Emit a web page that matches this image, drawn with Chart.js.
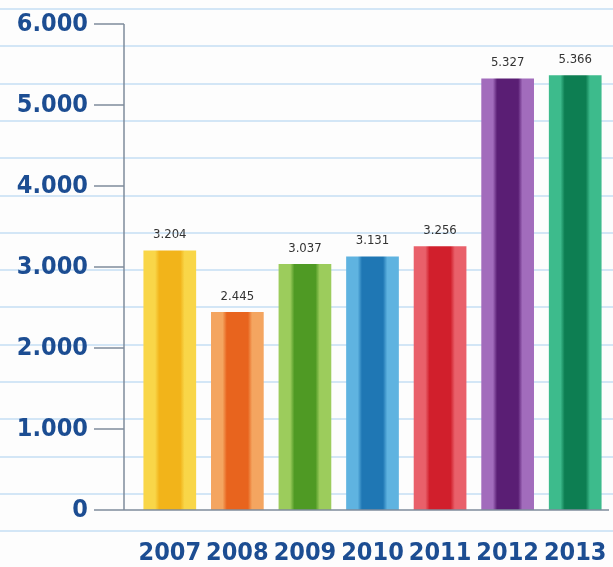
<!DOCTYPE html>
<html>
<head>
<meta charset="utf-8">
<script src="https://cdn.jsdelivr.net/npm/chart.js@4.4.1/dist/chart.umd.min.js"></script>
<style>
  html, body { margin: 0; padding: 0; }
  body {
    width: 613px; height: 567px; overflow: hidden;
    background-color: #fdfdfd;
    background-image: repeating-linear-gradient(to bottom, transparent 0px, transparent 8px, #d3e6f6 8px, #d3e6f6 10px, transparent 10px, transparent 37.3px);
  }
  #wrap { position: relative; width: 613px; height: 567px; }
</style>
</head>
<body>
<div id="wrap"><canvas id="myChart"></canvas></div>
<script>
const years = ['2007', '2008', '2009', '2010', '2011', '2012', '2013'];
const values = [3204, 2445, 3037, 3131, 3256, 5327, 5366];
const yTicks = [0, 1000, 2000, 3000, 4000, 5000, 6000];
// light edge / dark middle per bar
const edgeColors = ['#f9d648', '#f4a560', '#9ccc5c', '#5fb3e0', '#e9606a', '#a26cbc', '#3dbb8c'];
const midColors = ['#f2b41a', '#e8641e', '#4f9a24', '#1f77b4', '#d11f2c', '#5a1e74', '#0d7e52'];

const blue = '#1c4d92';
const barPct = 0.78;

function fmt(v) {
  return v.toString().replace(/\B(?=(\d{3})+(?!\d))/g, '.');
}

function barFill(ctx) {
  const i = ctx.dataIndex;
  const chart = ctx.chart;
  const xs = chart.scales.x;
  if (!xs || !xs.width) return midColors[i];
  const cx = xs.getPixelForValue(i);
  const w = xs.width / years.length * barPct;
  const g = chart.ctx.createLinearGradient(cx - w / 2, 0, cx + w / 2, 0);
  g.addColorStop(0, edgeColors[i]);
  g.addColorStop(0.22, edgeColors[i]);
  g.addColorStop(0.3, midColors[i]);
  g.addColorStop(0.7, midColors[i]);
  g.addColorStop(0.78, edgeColors[i]);
  g.addColorStop(1, edgeColors[i]);
  return g;
}

const axisPlugin = {
  id: 'axisPlugin',
  afterDatasetsDraw(chart) {
    const c = chart.ctx;
    const y = chart.scales.y;
    const area = chart.chartArea;
    const ax = area.left - 12;
    c.save();
    c.strokeStyle = '#7f8c9c';
    c.lineWidth = 1.5;
    c.beginPath();
    c.moveTo(ax, y.getPixelForValue(6000));
    c.lineTo(ax, y.getPixelForValue(0));
    yTicks.forEach(t => {
      const py = y.getPixelForValue(t);
      c.moveTo(ax - 30, py);
      c.lineTo(ax, py);
    });
    c.moveTo(ax, y.getPixelForValue(0));
    c.lineTo(area.right, y.getPixelForValue(0));
    c.stroke();

    // value labels
    c.fillStyle = '#333';
    c.font = '13px "DejaVu Sans Condensed"';
    c.textAlign = 'center';
    c.textBaseline = 'bottom';
    const meta = chart.getDatasetMeta(0);
    meta.data.forEach((bar, i) => {
      c.fillText(fmt(values[i]), bar.x, bar.y - 9);
    });
    c.restore();
  }
};

new Chart(document.getElementById('myChart'), {
  type: 'bar',
  data: {
    labels: years,
    datasets: [{
      data: values,
      backgroundColor: barFill,
      borderWidth: 0,
      barPercentage: barPct,
      categoryPercentage: 1
    }]
  },
  options: {
    responsive: true,
    maintainAspectRatio: false,
    animation: false,
    layout: { padding: { top: 24, right: 4, left: 0, bottom: 0 } },
    plugins: { legend: { display: false }, tooltip: { enabled: false } },
    scales: {
      x: {
        grid: { display: false },
        border: { display: false },
        ticks: {
          color: blue,
          font: { family: 'DejaVu Sans Condensed', weight: 'bold', size: 25 },
          padding: 20,
          maxRotation: 0
        },
        afterFit(scale) {
          scale.height = 57;
          scale.paddingLeft = 0;
          scale.paddingRight = 0;
        }
      },
      y: {
        min: 0,
        max: 6000,
        grid: { display: false },
        border: { display: false },
        ticks: {
          stepSize: 1000,
          color: blue,
          font: { family: 'DejaVu Sans Condensed', weight: 'bold', size: 25 },
          padding: 40,
          callback: v => fmt(v)
        },
        afterFit(scale) {
          scale.width = 136;
          scale.paddingTop = 0;
          scale.paddingBottom = 0;
        }
      }
    }
  },
  plugins: [axisPlugin]
});
</script>
</body>
</html>
